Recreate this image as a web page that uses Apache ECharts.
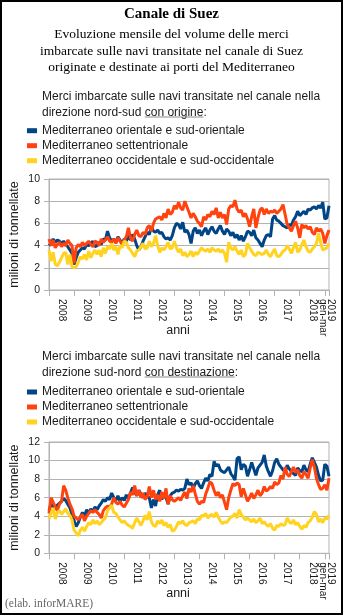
<!DOCTYPE html>
<html>
<head>
<meta charset="utf-8">
<script src="https://cdn.jsdelivr.net/npm/echarts@6/dist/echarts.min.js"></script>
<style>
  html, body { margin: 0; padding: 0; background: #fff; }
  #wrap { position: relative; width: 343px; height: 615px; }
  #chart { width: 343px; height: 615px; }
  #frame { position: absolute; left: 0; top: 0; width: 343px; height: 615px;
           box-sizing: border-box; border: 2px solid #000; pointer-events: none; }
</style>
</head>
<body>
<div id="wrap"><div id="chart"></div><div id="frame"></div></div>
<script>
// Monthly volumes (millions of tonnes), Jan 2008 - Mar 2019
const firstYear = 2008;
const lastYear = 2019;
const monthsInLastYear = 3;

const yearLabels = ['2008', '2009', '2010', '2011', '2012', '2013', '2014',
                    '2015', '2016', '2017', '2018', '2019\ngen-mar'];

const seriesNames = [
  'Mediterraneo orientale e sud-orientale',
  'Mediterraneo settentrionale',
  'Mediterraneo occidentale e sud-occidentale'
];

// North-south direction, by origin
const originEast = [
  4.0, 4.2, 4.6, 4.3, 4.5, 4.4, 4.2, 4.4, 4.1, 3.9, 3.6, 3.3,
  2.3, 2.9, 3.4, 3.6, 3.8, 3.7, 4.1, 4.0, 4.2, 4.4, 3.9, 4.0,
  4.3, 4.1, 4.6, 4.5, 5.3, 4.7, 4.4, 4.6, 4.3, 4.8, 4.5, 4.2,
  4.6, 4.4, 4.9, 4.5, 5.0, 4.6, 4.0, 3.6, 3.9, 4.4, 4.8, 5.2,
  5.0, 5.7, 5.3, 5.2, 5.4, 5.1, 5.2, 4.8, 4.6, 4.7, 4.5, 4.9,
  5.6, 6.0, 5.9, 5.5, 6.1, 5.2, 5.4, 5.0, 4.2, 5.3, 5.6, 5.1,
  5.4, 4.9, 5.3, 5.6, 5.0, 5.4, 5.7, 5.3, 5.1, 5.5, 5.8, 5.3,
  5.0, 5.5, 5.3, 4.9, 5.2, 4.7, 5.0, 4.5, 4.9, 4.4, 4.8, 5.3,
  5.2, 4.9, 5.4, 4.7, 4.5, 4.2, 3.9, 4.5, 4.9, 5.0, 4.8, 6.4,
  6.7, 6.3, 6.2, 6.0, 5.8, 5.7, 5.6, 5.9, 5.8, 6.3, 6.6, 7.1,
  6.7, 6.9, 7.1, 6.8, 7.3, 7.2, 7.4, 7.5, 7.3, 7.6, 7.4, 7.9,
  6.4, 6.5, 7.6
];
const originNorth = [
  4.6, 4.0, 4.5, 3.8, 4.1, 4.3, 3.9, 4.2, 4.0, 4.5, 4.2, 4.0,
  2.4, 3.8, 4.1, 3.9, 4.3, 4.0, 4.2, 4.4, 4.1, 3.9, 4.4, 4.3,
  4.0, 4.6, 4.3, 4.5, 4.8, 4.4, 4.3, 4.6, 4.2, 4.7, 4.4, 4.1,
  4.5, 4.8, 5.6, 4.7, 4.4, 5.0, 5.4, 4.9, 4.8, 5.2, 5.0, 5.6,
  5.8, 5.3, 6.0, 6.4, 6.5, 6.6, 6.3, 6.9, 6.5, 7.3, 6.8, 7.0,
  7.6, 7.3, 7.9, 7.4, 7.2, 8.0, 7.5, 7.0, 6.5, 6.9, 6.6, 6.2,
  6.0, 5.7, 6.6, 6.3, 6.8, 6.6, 7.1, 6.8, 7.4, 6.5, 7.0, 6.5,
  6.8, 5.9, 7.3, 7.6, 7.5, 8.1, 7.3, 7.0, 7.2, 6.6, 6.9, 6.4,
  5.7, 6.6, 7.3, 5.6, 6.5, 7.2, 7.4, 6.8, 7.3, 6.9, 7.1, 7.0,
  7.2, 6.9, 7.1, 7.3, 7.7, 6.8, 5.9, 5.6, 5.3, 5.8, 6.2, 5.6,
  4.7, 5.9, 5.6, 5.8, 5.5, 5.7, 5.2, 5.0, 5.6, 5.3, 5.5, 5.1,
  4.2, 4.9, 5.4
];
const originWest = [
  3.6, 2.6, 3.4, 2.3, 2.2, 2.5, 2.9, 3.3, 3.4, 2.3, 3.2, 2.1,
  2.0, 2.1, 2.5, 3.0, 2.8, 3.2, 2.7, 3.5, 2.9, 3.3, 3.6, 3.2,
  3.6, 3.0, 3.8, 3.3, 3.9, 3.7, 4.2, 3.6, 3.9, 3.2, 4.0, 3.8,
  4.4, 4.3, 3.8, 3.6, 3.3, 3.0, 3.5, 3.6, 3.9, 4.2, 3.7, 3.8,
  4.4, 3.9, 4.2, 4.9, 4.0, 3.4, 3.8, 3.6, 3.9, 4.3, 3.7, 3.8,
  4.4, 3.8, 3.4, 3.7, 3.1, 3.4, 3.0, 3.2, 3.5, 3.0, 3.4, 3.2,
  3.5, 3.8, 3.6, 3.5, 3.7, 3.4, 3.8, 3.6, 3.5, 3.7, 3.4, 3.6,
  3.3, 2.5, 4.3, 3.8, 3.6, 3.9, 3.5, 3.2, 3.6, 3.0, 3.2, 4.2,
  3.8, 3.5, 3.2, 3.1, 3.4, 3.3, 3.2, 3.3, 3.6, 3.2, 3.0, 3.4,
  3.7, 3.1, 3.0, 3.2, 3.5, 3.6, 4.0, 3.7, 3.3, 3.8, 4.3, 3.4,
  3.6, 4.1, 4.5, 3.9, 3.5, 3.4, 3.7, 3.9, 4.2, 5.1, 4.3, 3.6,
  3.7, 3.8, 4.2
];

// South-north direction, by destination
const destEast = [
  4.6, 5.3, 5.0, 4.8, 5.2, 5.4, 5.6, 5.9, 5.7, 5.3, 4.9, 4.2,
  3.5, 2.9, 3.3, 3.9, 4.4, 4.0, 4.7, 4.3, 4.8, 4.5, 5.0, 4.7,
  5.1, 5.4, 5.8, 5.6, 6.0, 5.8, 6.5, 6.0, 5.7, 6.2, 5.6, 6.0,
  5.7, 6.3, 5.9, 6.5, 7.1, 6.6, 6.2, 6.8, 6.4, 6.0, 6.5, 6.1,
  6.0, 4.9, 5.8, 5.1, 6.3, 6.8, 5.8, 6.4, 6.0, 5.3, 6.2, 6.5,
  6.6, 6.8, 6.7, 6.9, 6.8, 7.0, 8.0, 7.4, 7.6, 7.0, 7.5, 7.8,
  7.3, 7.0, 7.6, 8.1, 7.8, 8.5, 8.3, 9.9, 9.4, 9.6, 9.0, 8.8,
  8.7, 9.0, 9.3, 8.6, 8.3, 7.9, 10.2, 10.4, 9.0, 9.6, 9.4, 8.3,
  9.0, 9.8, 9.1, 8.4, 9.2, 9.5, 9.8, 10.6, 9.4, 8.8, 8.3, 8.9,
  9.8, 10.2, 9.6, 9.3, 9.0, 8.8, 9.5, 9.1, 8.8, 8.6, 8.4, 9.2,
  8.9, 8.8, 9.5, 9.0, 8.8, 9.6, 10.3, 9.8, 9.3, 8.4, 7.8, 7.9,
  9.6, 9.4, 8.3
];
const destNorth = [
  4.3, 6.0, 5.5, 5.0, 4.6, 5.3, 5.6, 7.3, 6.8, 6.0, 5.3, 4.8,
  4.0, 3.8, 3.6, 3.9, 4.2, 3.5, 4.0, 4.3, 4.6, 4.4, 4.7, 4.4,
  4.2, 3.8, 4.6, 4.9, 5.1, 5.0, 5.3, 6.0, 5.5, 5.3, 5.6, 5.2,
  5.0, 5.4, 5.8, 6.6, 6.3, 7.3, 6.2, 6.8, 6.0, 6.5, 5.8, 6.1,
  7.2, 6.0, 6.8, 5.8, 6.3, 5.6, 6.6, 5.9, 7.0, 5.3, 6.2, 5.8,
  5.6, 5.8, 6.0, 5.7, 6.2, 6.6, 5.9, 7.0, 6.6, 7.3, 6.4, 5.6,
  5.3, 5.6, 5.5, 6.4, 7.0, 7.7, 7.5, 6.8, 6.2, 6.6, 6.0, 6.3,
  5.5, 4.7, 6.0, 6.8, 7.5, 7.3, 7.6, 7.4, 6.1, 7.0, 6.3, 5.6,
  6.0, 6.5, 5.9, 6.3, 6.8, 6.2, 6.5, 7.2, 6.7, 6.9, 7.2, 7.0,
  7.7, 7.4, 7.6, 8.4, 8.0, 9.3, 8.5, 8.3, 8.8, 9.3, 8.7, 9.0,
  8.4, 8.1, 8.8, 8.5, 8.1, 9.2, 10.1, 9.3, 8.1, 7.4, 6.9, 7.0,
  7.4, 6.8, 8.1
];
const destWest = [
  3.7, 4.3, 4.9, 3.7, 4.4, 4.6, 4.2, 4.5, 4.8, 4.3, 4.1, 3.6,
  2.5, 2.2, 1.9, 2.5, 2.8, 2.4, 2.9, 3.3, 3.1, 3.6, 3.2, 3.5,
  3.1, 3.3, 3.6, 3.8, 4.6, 4.9, 5.2, 4.4, 4.3, 3.9, 3.6, 3.3,
  3.5, 3.2, 3.0, 2.9, 2.7, 3.3, 3.8, 3.4, 3.0, 3.5, 4.1, 3.6,
  4.5, 3.4, 3.0, 2.9, 3.5, 3.2, 3.6, 3.0, 3.3, 2.8, 3.1, 2.4,
  2.5, 2.9, 3.4, 3.2, 3.5, 3.1, 3.0, 3.3, 3.4, 3.5, 3.2, 3.7,
  3.6, 4.1, 4.0, 4.3, 3.8, 4.1, 4.2, 3.9, 4.4, 3.9, 3.5, 3.2,
  3.4, 3.3, 3.6, 3.9, 4.0, 4.3, 3.8, 4.7, 4.2, 3.9, 3.6, 3.8,
  3.6, 3.4, 3.7, 3.3, 3.5, 3.8, 3.2, 3.4, 3.1, 2.9, 3.2, 2.7,
  2.5, 3.0, 2.9, 3.2, 3.0, 3.1, 3.8, 3.4, 3.2, 3.6, 3.1, 3.3,
  2.9, 2.6, 3.0, 2.8, 3.3, 3.5, 3.9, 4.5, 4.2, 3.4, 3.7, 3.3,
  3.8, 3.7, 4.1
];

// Month categories "YYYY-MM"
const months = [];
for (let y = firstYear; y <= lastYear; y++) {
  const n = y === lastYear ? monthsInLastYear : 12;
  for (let m = 1; m <= n; m++) months.push(y + '-' + String(m).padStart(2, '0'));
}
const lastIdx = months.length - 1;
const lastYearStart = (lastYear - firstYear) * 12;

const colors = ['#004586', '#ff420e', '#ffd320'];
const GRID = '#b3b3b3';
const SANS = '"Liberation Sans", Arial, sans-serif';
const SERIF = '"Liberation Serif", "Times New Roman", serif';
const TXT = '#1a1a1a';

const measureCtx = document.createElement('canvas').getContext('2d');
function textWidth(t, font) { measureCtx.font = font; return measureCtx.measureText(t).width; }

function xAxis(gridIndex) {
  return {
    type: 'category', gridIndex, data: months, boundaryGap: false,
    name: 'anni', nameLocation: 'middle', nameGap: 34, nameMoveOverlap: false,
    nameTextStyle: { fontFamily: SANS, fontSize: 12.5, color: TXT, padding: [0, 22, 0, 0] },
    axisLine: { lineStyle: { color: GRID } },
    axisTick: { length: 6, lineStyle: { color: GRID },
                interval: (i) => i % 12 === 0 || i === lastIdx },
    axisLabel: {
      // one label per year, placed mid-year; the partial last year sits at its middle month
      interval: (i) => (i % 12 === 6 && i < lastYearStart) || i === lastIdx - 1,
      rotate: -90, margin: 9, fontFamily: SANS, fontSize: 10, color: TXT, lineHeight: 7.5,
      formatter: (v, i) => yearLabels[Math.floor(i / 12)]
    },
    splitLine: { show: false }
  };
}
function yAxis(gridIndex, max) {
  return {
    type: 'value', gridIndex, min: 0, max, interval: 2,
    name: 'milioni di tonnellate', nameLocation: 'middle', nameGap: 28, nameMoveOverlap: false,
    nameTextStyle: { fontFamily: SANS, fontSize: 12.5, color: TXT },
    axisLine: { show: true, lineStyle: { color: GRID } },
    axisTick: { show: true, length: 5, lineStyle: { color: GRID } },
    axisLabel: { margin: 9, fontFamily: SANS, fontSize: 10.5, color: TXT },
    splitLine: { lineStyle: { color: GRID, width: 1 } }
  };
}
function line(name, data, idx, color) {
  return {
    type: 'line', name, data, xAxisIndex: idx, yAxisIndex: idx,
    showSymbol: false, symbol: 'none', smooth: false,
    lineStyle: { width: 3, color }, itemStyle: { color }, animation: false
  };
}
function legend(top) {
  return {
    orient: 'vertical', left: 27, top, padding: 0, itemWidth: 10, itemHeight: 5, itemGap: 1,
    icon: 'rect', selectedMode: false, data: seriesNames,
    textStyle: { fontFamily: SANS, fontSize: 12, color: TXT, lineHeight: 14 }
  };
}
function caption(y, line1, prefix, underlined, suffix) {
  const font = '12px ' + SANS;
  const x0 = 42;
  const ux = x0 + textWidth(prefix, font);
  const uw = textWidth(underlined, font);
  return [
    { type: 'text', x: x0, y, style: { text: line1, font, fill: TXT, textVerticalAlign: 'middle' } },
    { type: 'text', x: x0, y: y + 15.8, style: { text: prefix + underlined + suffix, font, fill: TXT, textVerticalAlign: 'middle' } },
    { type: 'line', shape: { x1: ux, y1: y + 20.3, x2: ux + uw, y2: y + 20.3 }, style: { stroke: '#8c8c8c', lineWidth: 1 } }
  ];
}

const chart = echarts.init(document.getElementById('chart'), null, { renderer: 'canvas' });
chart.setOption({
  animation: false,
  color: colors,
  grid: [
    { left: 49, right: 14, top: 179, height: 111, show: true, borderColor: GRID, borderWidth: 1 },
    { left: 49, right: 14, top: 442, height: 111.3, show: true, borderColor: GRID, borderWidth: 1 }
  ],
  xAxis: [xAxis(0), xAxis(1)],
  yAxis: [yAxis(0, 10), yAxis(1, 12)],
  legend: [legend(123.7), legend(385)],
  series: [
    line(seriesNames[0], originEast, 0, colors[0]),
    line(seriesNames[1], originNorth, 0, colors[1]),
    line(seriesNames[2], originWest, 0, colors[2]),
    line(seriesNames[0], destEast, 1, colors[0]),
    line(seriesNames[1], destNorth, 1, colors[1]),
    line(seriesNames[2], destWest, 1, colors[2])
  ],
  graphic: [
    { type: 'text', x: 171.5, y: 14.5, style: { text: 'Canale di Suez', font: 'bold 15px ' + SERIF, fill: '#000', textAlign: 'center', textVerticalAlign: 'middle' } },
    { type: 'text', x: 171.5, y: 34.8, style: { text: 'Evoluzione mensile del volume delle merci', font: '13.5px ' + SERIF, fill: '#000', textAlign: 'center', textVerticalAlign: 'middle' } },
    { type: 'text', x: 171.5, y: 51.1, style: { text: 'imbarcate sulle navi transitate nel canale di Suez', font: '13.5px ' + SERIF, fill: '#000', textAlign: 'center', textVerticalAlign: 'middle' } },
    { type: 'text', x: 171.5, y: 67.4, style: { text: 'originate e destinate ai porti del Mediterraneo', font: '13.5px ' + SERIF, fill: '#000', textAlign: 'center', textVerticalAlign: 'middle' } },
    ...caption(96.7, 'Merci imbarcate sulle navi transitate nel canale nella', 'direzione nord-sud ', 'con origine', ':'),
    ...caption(356.7, 'Merci imbarcate sulle navi transitate nel canale nella', 'direzione sud-nord ', 'con destinazione', ':'),
    { type: 'text', x: 5, y: 604, style: { text: '(elab. inforMARE)', font: '11.5px ' + SERIF, fill: '#666', textVerticalAlign: 'middle' } }
  ]
});
</script>
</body>
</html>
